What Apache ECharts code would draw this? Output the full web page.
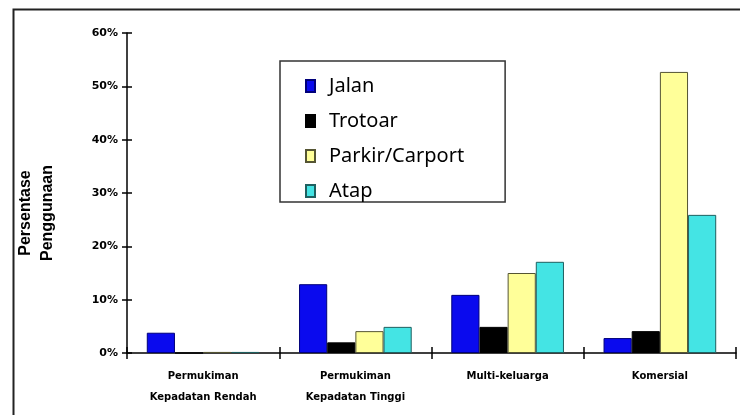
<!DOCTYPE html>
<html>
<head>
<meta charset="utf-8">
<script src="https://cdn.jsdelivr.net/npm/echarts@6/dist/echarts.min.js"></script>
<style>html,body{margin:0;padding:0;background:#fff;}</style>
</head>
<body>
<div id="main" style="width:740px;height:415px;"></div>
<script>
// data (percent)
var categories = ['Permukiman\nKepadatan Rendah', 'Permukiman\nKepadatan Tinggi', 'Multi-keluarga', 'Komersial'];
var jalan   = [3.8, 12.9, 10.9, 2.8];
var trotoar = [0, 2.0, 4.9, 4.1];
var parkir  = [0.2, 4.1, 15.0, 52.7];
var atap    = [0.2, 4.9, 17.1, 25.9];
var yTicks  = [0, 10, 20, 30, 40, 50, 60];

var chart = echarts.init(document.getElementById('main'));

function bar(name, data, color, border) {
    return {
        name: name,
        type: 'bar',
        data: data,
        barGap: '0%',
        barCategoryGap: '26%',
        itemStyle: { color: color, borderColor: border, borderWidth: 1 }
    };
}

chart.setOption({
    animation: false,
    grid: { left: 127, top: 33, right: 4, bottom: 62 },
    legend: {
        orient: 'vertical',
        left: 280, top: 61,
        borderColor: '#333', borderWidth: 1.5,
        padding: [15, 41, 1, 25],
        itemWidth: 9, itemHeight: 12, itemGap: 15,
        icon: 'rect',
        textStyle: { fontFamily: 'Noto Sans', fontSize: 20, color: '#000', padding: [0, 0, 0, 9] },
        data: ['Jalan', 'Trotoar', 'Parkir/Carport', 'Atap']
    },
    xAxis: [{
        type: 'category',
        data: categories,
        axisLine: { lineStyle: { color: '#000', width: 1.5 } },
        axisTick: { show: true, length: 6, lineStyle: { color: '#000', width: 1.5 } },
        axisLabel: { margin: 13, fontFamily: 'DejaVu Sans', fontWeight: 'bold', fontSize: 10, color: '#000', lineHeight: 21 }
    }, {
        type: 'category',
        data: categories,
        position: 'bottom',
        axisLine: { show: false },
        axisTick: { show: true, inside: true, length: 6, lineStyle: { color: '#000', width: 1.5 } },
        axisLabel: { show: false }
    }],
    yAxis: [{
        type: 'value',
        min: 0, max: 60, interval: 10,
        splitLine: { show: false },
        axisLine: { show: true, lineStyle: { color: '#000', width: 1.5 } },
        axisTick: { show: true, length: 5, lineStyle: { color: '#000', width: 1.5 } },
        axisLabel: { margin: 9, fontFamily: 'DejaVu Sans', fontWeight: 'bold', fontSize: 11, color: '#000',
            formatter: function (v) { return yTicks.indexOf(v) >= 0 ? v + '%' : ''; } }
    }, {
        type: 'value',
        min: 0, max: 60, interval: 10,
        position: 'left',
        splitLine: { show: false },
        axisLine: { show: false },
        axisTick: { show: true, inside: true, length: 5, lineStyle: { color: '#000', width: 1.5 } },
        axisLabel: { show: false }
    }],
    graphic: [
        { type: 'rect', left: 11, top: 7, shape: { width: 760, height: 440 },
          style: { fill: 'none', stroke: '#222', lineWidth: 2 }, silent: true },
        { type: 'text', x: 26, y: 213, rotation: Math.PI / 2,
          style: { text: 'Persentase', fontFamily: 'Liberation Sans', fontWeight: 'bold', fontSize: 16,
                   fill: '#000', align: 'center', verticalAlign: 'middle' } },
        { type: 'text', x: 48, y: 213, rotation: Math.PI / 2,
          style: { text: 'Penggunaan', fontFamily: 'Liberation Sans', fontWeight: 'bold', fontSize: 16,
                   fill: '#000', align: 'center', verticalAlign: 'middle' } }
    ],
    series: [
        bar('Jalan', jalan, '#0a0aee', '#00007a'),
        bar('Trotoar', trotoar, '#000', '#000'),
        bar('Parkir/Carport', parkir, '#ffff99', '#555533'),
        bar('Atap', atap, '#44e4e4', '#1f6060')
    ]
});
</script>
</body>
</html>
